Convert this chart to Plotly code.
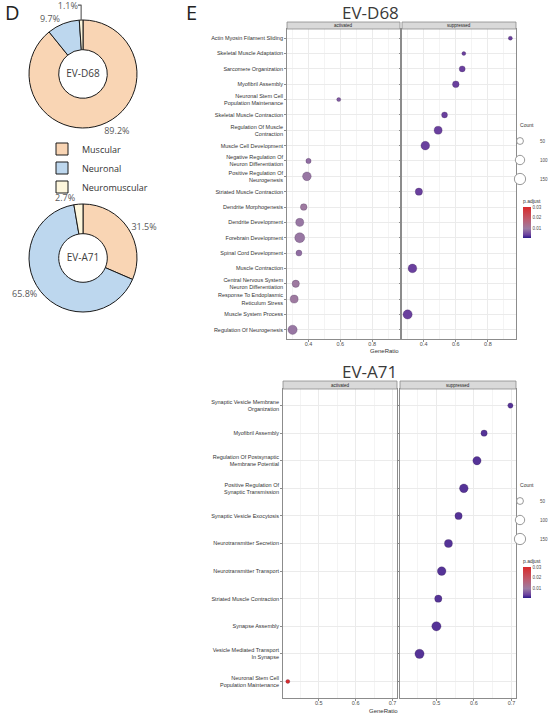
import plotly.graph_objects as go

W, H = 550, 716


def px_x(v):
    return v / W


def px_y(v):
    return 1 - v / H


# ── Donut data (panel D) ──────────────────────────────────────────────────────
classes = ["Muscular", "Neuronal", "Neuromuscular"]
class_colors = ["#F9D5B4", "#BDD7EE", "#FDF6DC"]
share_d68 = [89.2, 9.7, 1.1]
share_a71 = [31.5, 65.8, 2.7]

# ── Dot plot data (panel E) ───────────────────────────────────────────────────
terms_d68 = [
    "Actin Myosin Filament Sliding",
    "Skeletal Muscle Adaptation",
    "Sarcomere Organization",
    "Myofibril Assembly",
    "Neuronal Stem Cell<br>Population Maintenance",
    "Skeletal Muscle Contraction",
    "Regulation Of Muscle<br>Contraction",
    "Muscle Cell Development",
    "Negative Regulation Of<br>Neuron Differentiation",
    "Positive Regulation Of<br>Neurogenesis",
    "Striated Muscle Contraction",
    "Dendrite Morphogenesis",
    "Dendrite Development",
    "Forebrain Development",
    "Spinal Cord Development",
    "Muscle Contraction",
    "Central Nervous System<br>Neuron Differentiation",
    "Response To Endoplasmic<br>Reticulum Stress",
    "Muscle System Process",
    "Regulation Of Neurogenesis",
]

d68_act_terms = [
    "Neuronal Stem Cell<br>Population Maintenance",
    "Negative Regulation Of<br>Neuron Differentiation",
    "Positive Regulation Of<br>Neurogenesis",
    "Dendrite Morphogenesis",
    "Dendrite Development",
    "Forebrain Development",
    "Spinal Cord Development",
    "Central Nervous System<br>Neuron Differentiation",
    "Response To Endoplasmic<br>Reticulum Stress",
    "Regulation Of Neurogenesis",
]
d68_act_ratio = [0.59, 0.40, 0.39, 0.37, 0.345, 0.345, 0.34, 0.32, 0.31, 0.30]
d68_act_count = [14, 27, 85, 47, 71, 116, 37, 58, 71, 98]
d68_act_padj = [0.006, 0.008, 0.009, 0.010, 0.009, 0.009, 0.008, 0.010, 0.010, 0.009]

d68_sup_terms = [
    "Actin Myosin Filament Sliding",
    "Skeletal Muscle Adaptation",
    "Sarcomere Organization",
    "Myofibril Assembly",
    "Skeletal Muscle Contraction",
    "Regulation Of Muscle<br>Contraction",
    "Muscle Cell Development",
    "Striated Muscle Contraction",
    "Muscle Contraction",
    "Muscle System Process",
]
d68_sup_ratio = [0.94, 0.65, 0.64, 0.60, 0.53, 0.49, 0.41, 0.37, 0.33, 0.30]
d68_sup_count = [14, 13, 37, 47, 36, 71, 85, 58, 86, 98]
d68_sup_padj = [0.0035, 0.0035, 0.0035, 0.0035, 0.0035, 0.0035, 0.0035, 0.0035, 0.0035, 0.0035]

terms_a71 = [
    "Synaptic Vesicle Membrane<br>Organization",
    "Myofibril Assembly",
    "Regulation Of Postsynaptic<br>Membrane Potential",
    "Positive Regulation Of<br>Synaptic Transmission",
    "Synaptic Vesicle Exocytosis",
    "Neurotransmitter Secretion",
    "Neurotransmitter Transport",
    "Striated Muscle Contraction",
    "Synapse Assembly",
    "Vesicle Mediated Transport<br>In Synapse",
    "Neuronal Stem Cell<br>Population Maintenance",
]

a71_act_terms = ["Neuronal Stem Cell<br>Population Maintenance"]
a71_act_ratio = [0.416]
a71_act_count = [14]
a71_act_padj = [0.030]

a71_sup_terms = terms_a71[:10]
a71_sup_ratio = [0.697, 0.627, 0.608, 0.573, 0.559, 0.532, 0.514, 0.505, 0.50, 0.455]
a71_sup_count = [27, 41, 77, 85, 58, 71, 85, 58, 98, 98]
a71_sup_padj = [0.0025, 0.0025, 0.0025, 0.0025, 0.0025, 0.0025, 0.0025, 0.0025, 0.0025, 0.0025]

legend_counts = [50, 100, 150]

# p.adjust colour scale (blue -> red)
PADJ_SCALE = [
    [0.0, "#2A1A8A"],
    [0.1, "#6A409E"],
    [0.3, "#9C7CA3"],
    [0.6, "#BE5C6E"],
    [1.0, "#D92A2A"],
]


def dot_size(count):
    # size scale: diameter grows with sqrt(Count)
    return 0.85 * (1 + count ** 0.5)


GREY_LINE = "#8C8C8C"
TXT = "#4D4D4D"
AX_FONT = "Liberation Sans"

fig = go.Figure()

# ── Donuts ────────────────────────────────────────────────────────────────────
pie_common = dict(
    labels=classes, sort=False, direction="clockwise", rotation=0, hole=0.45,
    marker=dict(colors=class_colors, line=dict(color="#1A1A1A", width=1)),
    textposition="outside", texttemplate="%{percent:.1%}",
    textfont=dict(size=9, color="#595959", family="Open Sans"),
    hoverinfo="label+percent", legend="legend",
)
fig.add_trace(go.Pie(values=share_d68, name="EV-D68",
                     domain=dict(x=[px_x(29), px_x(137)], y=[px_y(128), px_y(20)]),
                     title=dict(text="EV-D68", position="middle center",
                                font=dict(size=10, color="#404040", family="Open Sans")),
                     **pie_common))
fig.add_trace(go.Pie(values=share_a71, name="EV-A71",
                     domain=dict(x=[px_x(29), px_x(137)], y=[px_y(312), px_y(204)]),
                     title=dict(text="EV-A71", position="middle center",
                                font=dict(size=10, color="#404040", family="Open Sans")),
                     **pie_common))

# ── Dot plots ─────────────────────────────────────────────────────────────────
panels = [
    (d68_act_terms, d68_act_ratio, d68_act_count, d68_act_padj, "x", "y", "coloraxis"),
    (d68_sup_terms, d68_sup_ratio, d68_sup_count, d68_sup_padj, "x2", "y2", "coloraxis"),
    (a71_act_terms, a71_act_ratio, a71_act_count, a71_act_padj, "x3", "y3", "coloraxis2"),
    (a71_sup_terms, a71_sup_ratio, a71_sup_count, a71_sup_padj, "x4", "y4", "coloraxis2"),
]
for terms, ratio, count, padj, xa, ya, ca in panels:
    fig.add_trace(go.Scatter(
        x=ratio, y=terms, xaxis=xa, yaxis=ya, mode="markers", showlegend=False,
        customdata=count,
        hovertemplate="%{y}<br>GeneRatio=%{x}<br>Count=%{customdata}<br>p.adjust=%{marker.color}<extra></extra>",
        marker=dict(size=[dot_size(c) for c in count], color=padj, coloraxis=ca,
                    opacity=1, line=dict(width=0.4, color="rgba(50,30,70,0.6)")),
    ))

# size legends ("Count")
for lg in ["legend2", "legend3"]:
    for c in legend_counts:
        fig.add_trace(go.Scatter(
            x=[None], y=[None], xaxis="x", yaxis="y", mode="markers", name=str(c),
            legend=lg, showlegend=True,
            marker=dict(size=dot_size(c), color="white", line=dict(color="#7F7F7F", width=0.8)),
        ))

xbase = dict(showline=True, mirror=True, linecolor=GREY_LINE, linewidth=0.8,
             showgrid=True, gridcolor="#EBEBEB", gridwidth=0.6, zeroline=False,
             ticks="outside", ticklen=2, tickcolor=GREY_LINE, ticklabelstandoff=-3,
             tickfont=dict(size=5.5, color=TXT, family=AX_FONT))
ybase = dict(type="category", showline=True, mirror=True, linecolor=GREY_LINE, linewidth=0.8,
             showgrid=True, gridcolor="#EBEBEB", gridwidth=0.6, zeroline=False,
             ticks="outside", ticklen=2, tickcolor=GREY_LINE,
             tickfont=dict(size=5.5, color="#333333", family=AX_FONT))

d68_x = dict(range=[0.265, 0.975], tick0=0, dtick=0.2, tickformat=".1f",
             minor=dict(showgrid=True, dtick=0.1, tick0=0, gridcolor="#F4F4F4", gridwidth=0.4))
a71_x = dict(range=[0.403, 0.712], tick0=0, dtick=0.1, tickformat=".1f",
             minor=dict(showgrid=True, dtick=0.05, tick0=0, gridcolor="#F4F4F4", gridwidth=0.4))

d68_ydom = [px_y(339), px_y(29)]
a71_ydom = [px_y(698), px_y(389)]
n68, n71 = len(terms_d68), len(terms_a71)


def cbar(top):
    return dict(
        x=px_x(523), xanchor="left", y=px_y(top), yanchor="top", lenmode="pixels", len=42,
        thickness=8, outlinewidth=0, xpad=0, ypad=0, ticks="",
        tickvals=[0.01, 0.02, 0.03], tickfont=dict(size=4.5, color=TXT, family=AX_FONT),
        title=dict(text="p.adjust", side="top", font=dict(size=5, color="#333333", family=AX_FONT)))


def count_legend(top):
    return dict(x=px_x(500), y=px_y(top), xanchor="left", yanchor="top", itemsizing="trace",
                title=dict(text="Count", side="top center",
                           font=dict(size=5, color="#333333", family=AX_FONT)),
                font=dict(size=4.5, color=TXT, family=AX_FONT), bgcolor="rgba(0,0,0,0)")


layout = dict(
    width=W, height=H, margin=dict(l=0, r=0, t=0, b=0, autoexpand=False),
    paper_bgcolor="white", plot_bgcolor="white",
    font=dict(family="Open Sans", color="#333333"),
    xaxis=dict(**xbase, **d68_x, domain=[px_x(287), px_x(400)], anchor="y"),
    xaxis2=dict(**xbase, **d68_x, domain=[px_x(402), px_x(516)], anchor="y2"),
    xaxis3=dict(**xbase, **a71_x, domain=[px_x(283), px_x(397)], anchor="y3"),
    xaxis4=dict(**xbase, **a71_x, domain=[px_x(400), px_x(516)], anchor="y4"),
    yaxis=dict(**ybase, categoryorder="array", categoryarray=terms_d68,
               range=[n68 - 0.4, -0.6], domain=d68_ydom, anchor="x"),
    yaxis2=dict(**ybase, matches="y", showticklabels=False, domain=d68_ydom, anchor="x2"),
    yaxis3=dict(**ybase, categoryorder="array", categoryarray=terms_a71,
                range=[n71 - 0.4, -0.6], domain=a71_ydom, anchor="x3"),
    yaxis4=dict(**ybase, matches="y3", showticklabels=False, domain=a71_ydom, anchor="x4"),
    coloraxis=dict(colorscale=PADJ_SCALE, cmin=0.0005, cmax=0.0305, colorbar=cbar(196)),
    coloraxis2=dict(colorscale=PADJ_SCALE, cmin=0.0005, cmax=0.0305, colorbar=cbar(556)),
    legend=dict(x=px_x(42), y=px_y(168), xanchor="left", yanchor="middle",
                font=dict(size=9, color="#333333", family="Open Sans"),
                bgcolor="rgba(0,0,0,0)", tracegroupgap=0),
    legend2=count_legend(120),
    legend3=count_legend(480),
)
fig.update_layout(**layout)

# strip headers
shapes = []
annotations = []
for xa, ytop, ybot, lab in [("x", 22, 29, "activated"), ("x2", 22, 29, "suppressed"),
                            ("x3", 381, 389, "activated"), ("x4", 381, 389, "suppressed")]:
    shapes.append(dict(type="rect", xref=f"{xa} domain", yref="paper", x0=0, x1=1,
                       y0=px_y(ybot), y1=px_y(ytop), fillcolor="#D9D9D9",
                       line=dict(color=GREY_LINE, width=0.8), layer="above"))
    annotations.append(dict(text=lab, xref=f"{xa} domain", yref="paper", x=0.5,
                            y=px_y((ytop + ybot) / 2), showarrow=False, yanchor="middle",
                            font=dict(size=4.5, color="#1A1A1A", family=AX_FONT)))

# titles and panel letters
annotations += [
    dict(text="D", x=px_x(3), y=px_y(12), xanchor="left", font=dict(size=20, color="#222222")),
    dict(text="E", x=px_x(184), y=px_y(12), xanchor="left", font=dict(size=20, color="#222222")),
    dict(text="EV-D68", x=px_x(401), y=px_y(12), font=dict(size=17, color="#3A3A3A")),
    dict(text="EV-A71", x=px_x(399), y=px_y(372), font=dict(size=17, color="#3A3A3A")),
    dict(text="GeneRatio", x=px_x(401), y=px_y(351), font=dict(size=6, color="#333333", family=AX_FONT)),
    dict(text="GeneRatio", x=px_x(400), y=px_y(711), font=dict(size=6, color="#333333", family=AX_FONT)),
]
for a in annotations:
    a.setdefault("xref", "paper")
    a.setdefault("yref", "paper")
    a.setdefault("yanchor", "middle")
    a.setdefault("showarrow", False)

fig.update_layout(shapes=shapes, annotations=annotations)
# page body has a default 8px margin; drop it so the figure sits at the window corner
fig.write_html("out.html", config={"displayModeBar": False},
               post_script="document.body.style.margin='0';")
